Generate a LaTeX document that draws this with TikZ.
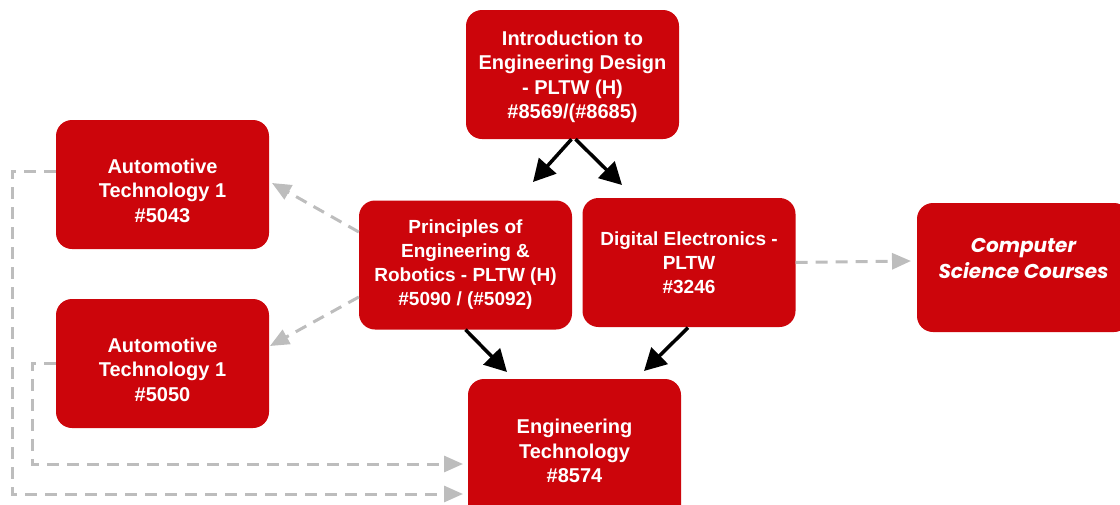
\documentclass[tikz,border=0pt]{standalone}
\usepackage{fontspec}
\setmainfont{Liberation Sans}
\newfontfamily\csfont{Poppins}
\usetikzlibrary{arrows.meta,calc}
\definecolor{boxred}{RGB}{204,5,11}
\definecolor{dashgray}{RGB}{189,189,189}
\newcommand{\downby}{\rule{0pt}{27pt}}
\begin{document}
\begin{tikzpicture}[x=1pt,y=1pt,
  box/.style={fill=boxred, rounded corners=16pt, minimum width=213pt, minimum height=129pt,
    text=white, font=\bfseries\fontsize{20}{24.5}\selectfont, align=center, inner sep=0pt},
  smallbox/.style={box, font=\bfseries\fontsize{19}{24}\selectfont},
  blk/.style={line width=3.5pt, draw=black, -{Triangle[length=22pt,width=23pt]}},
  gry/.style={line width=3pt, draw=dashgray, dash pattern=on 12pt off 8pt,
    -{Triangle[length=19pt,width=16pt]}}]
\useasboundingbox (0,0) rectangle (1120,-504);

\node[box] (intro) at (572.5,-74.5) {\rule{0pt}{19pt}Introduction to\\Engineering Design\\- PLTW (H)\\\#8569/(\#8685)};
\node[box] (auto1) at (162.5,-184.5) {\downby Automotive\\Technology 1\\\#5043};
\node[box] (auto2) at (162.5,-363.5) {\downby Automotive\\Technology 1\\\#5050};
\node[smallbox] (prin) at (465.5,-265) {Principles of\\Engineering \&\\Robotics - PLTW (H)\\\#5090 / (\#5092)};
\node[smallbox] (dig) at (689,-262.5) {Digital Electronics -\\PLTW\\\#3246};
\node[box] (cs) at (1023.5,-267.5) {};
\node[text=white, align=center, font=\csfont\bfseries\itshape\fontsize{20}{26}\selectfont] (cstext) at (1023.5,-258) {Computer\\Science Courses};
\node[box, minimum height=144pt] (et) at (574.5,-451) {Engineering\\Technology\\\#8574};

% black arrows
\coordinate (e1) at (533,-182);
\coordinate (e2) at (622,-185);
\coordinate (e3) at (507,-372);
\coordinate (e4) at (644,-371);
\draw[blk] ($(intro.south)+(-1,0)$) -- (e1);
\draw[blk] ($(intro.south)+(3,0)$) -- (e2);
\draw[blk] (prin.south) -- (e3);
\draw[blk] ($(dig.south)+(-1,-0.5)$) -- (e4);

% gray dashed arrows
\coordinate (g1) at (272,-183);
\coordinate (g2) at (270,-346);
\coordinate (g3) at (911,-261);
\coordinate (g4) at (463,-494);
\coordinate (g5) at (463,-464);
\draw[gry] ($(prin.west)+(0,33)$) -- (g1);
\draw[gry] ($(prin.west)+(0,-32)$) -- (g2);
\draw[gry] (dig.east) -- (g3);
\draw[gry] ($(auto1.west)+(0,13.5)$) -- (12,-171) -- (12,-494) -- (g4);
\draw[gry] ($(auto2.west)+(0,0.5)$) -- (32,-363) -- (32,-464) -- (g5);
\end{tikzpicture}
\end{document}
